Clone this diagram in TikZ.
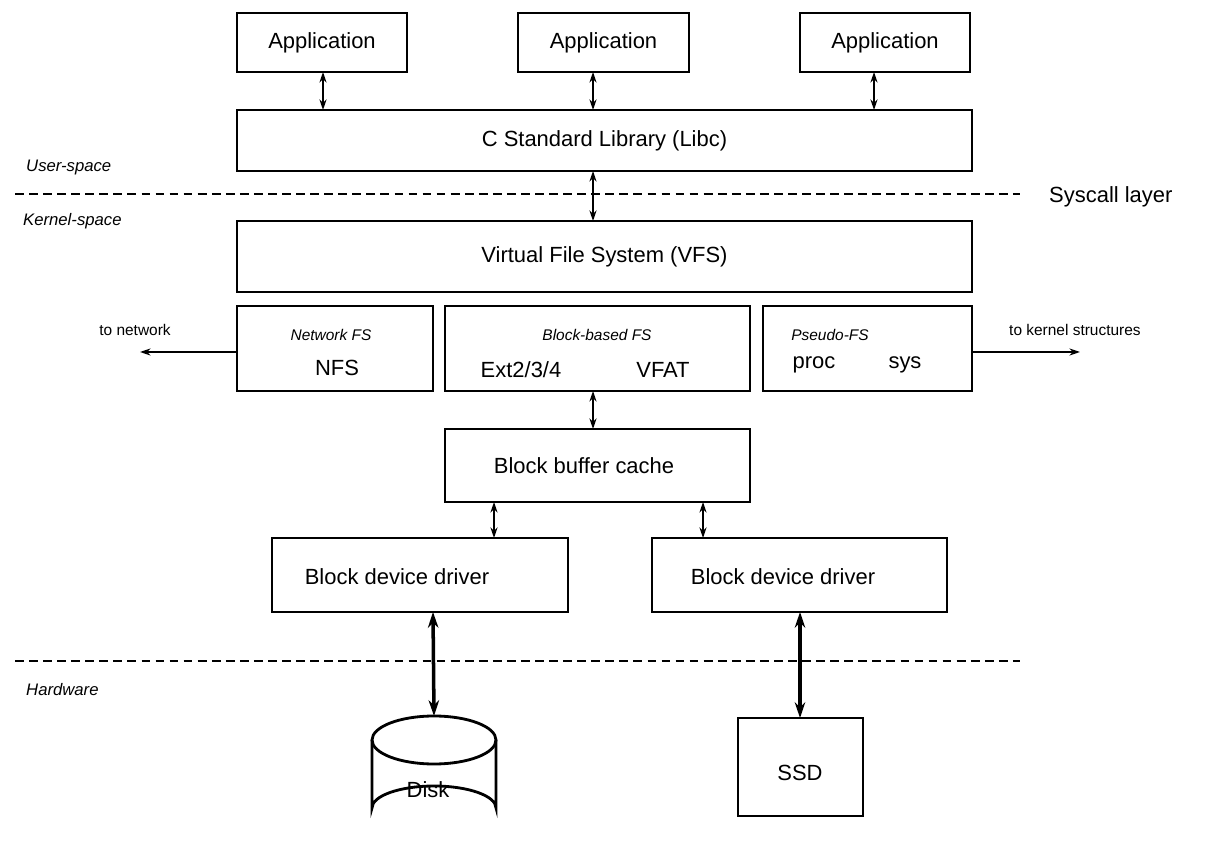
\documentclass[tikz,border=0pt]{standalone}
\usepackage{fontspec}
\setmainfont{Liberation Sans}
\usetikzlibrary{arrows.meta}
\begin{document}
\begin{tikzpicture}[x=0.02cm,y=-0.02cm,
  box/.style={draw,line width=1.6pt,inner sep=0},
  big/.style={font=\fontsize{12.5}{14}\selectfont},
  sm/.style={font=\fontsize{8.8}{10}\selectfont},
  ism/.style={font=\fontsize{8.8}{10}\selectfont\itshape},
  harr/.style={{Stealth[length=6pt,width=4pt]}-{Stealth[length=6pt,width=4pt]},line width=1.2pt},
  tarr/.style={{Stealth[length=9pt,width=6pt]}-{Stealth[length=9pt,width=6pt]},line width=2pt},
  oarr/.style={-{Stealth[length=6pt,width=4pt]},line width=1pt},
  dline/.style={line width=1pt,dash pattern=on 5pt off 3pt}]
\useasboundingbox (0,0) rectangle (1214,854);
\draw[box] (237,13) rectangle (407,72) node[midway,big]{Application};
\draw[box] (518,13) rectangle (689,72) node[midway,big]{Application};
\draw[box] (800,13) rectangle (970,72) node[midway,big]{Application};
\draw[box] (237,110) rectangle (972,171) node[midway,big]{C Standard Library (Libc)};
\draw[box] (237,221) rectangle (972,292) node[midway,big]{Virtual File System (VFS)};
\draw[box] (237,306) rectangle (433,391);
\draw[box] (445,306) rectangle (750,391);
\draw[box] (763,306) rectangle (972,391);
\draw[box] (445,429) rectangle (750,502);
\draw[box] (272,538) rectangle (568,612);
\draw[box] (652,538) rectangle (947,612);
\draw[box] (738,718) rectangle (863,816);
\node[big] (ssd) at (800,773) {SSD};
% disk
\draw[line width=1.6pt,fill=white] (372,740) -- (372,808) arc[start angle=180,end angle=360,x radius=62,y radius=22] -- (496,740);
\draw[line width=1.6pt] (434,740) ellipse[x radius=62,y radius=24];
\node[big] (disk) at (428,790) {Disk};
\coordinate (disktop) at (434,716);
% texts
\node[ism] (nfsl) at (331,335) {Network FS};
\node[big] (nfs) at (337,368) {NFS};
\node[ism] (bfsl) at (597,335) {Block-based FS};
\node[big] (ext) at (521,370) {Ext2/3/4};
\node[big] (vfat) at (663,370) {VFAT};
\node[ism] (pfsl) at (830,335) {Pseudo-FS};
\node[big] (proc) at (814,365) {proc};
\node[big] (sys) at (905,365) {sys};
\node[big] (bbc) at (584,466) {Block buffer cache};
\node[big] (bdd1) at (397,577) {Block device driver};
\node[big] (bdd2) at (783,577) {Block device driver};
\node[font=\fontsize{9.5}{10}\selectfont\itshape,anchor=west] (us) at (20,167) {User-space};
\node[font=\fontsize{9.5}{10}\selectfont\itshape,anchor=west] (ks) at (17,221) {Kernel-space};
\node[font=\fontsize{9.5}{10}\selectfont\itshape,anchor=west] (hw) at (20,690) {Hardware};
\node[big,anchor=west] (sc) at (1043,197) {Syscall layer};
\node[sm] (tn) at (135,330) {to network};
\node[sm,anchor=west] (tk) at (1003,330) {to kernel structures};
% dashed lines
\draw[dline] (15,194) -- (1020,194);
\draw[dline] (15,661) -- (1020,661);
% arrows
\draw[harr] (323,72) -- (323,110);
\draw[harr] (593,72) -- (593,110);
\draw[harr] (874,72) -- (874,110);
\draw[harr,line width=1.6pt] (593,171) -- (593,221);
\draw[harr] (593,391) -- (593,429);
\draw[harr] (494,502) -- (494,538);
\draw[harr] (703,502) -- (703,538);
\draw[tarr] (433,612) -- (disktop);
\draw[tarr] (800,612) -- (800,718);
\draw[oarr] (237,352) -- (140,352);
\draw[oarr] (972,352) -- (1080,352);
\end{tikzpicture}
\end{document}
